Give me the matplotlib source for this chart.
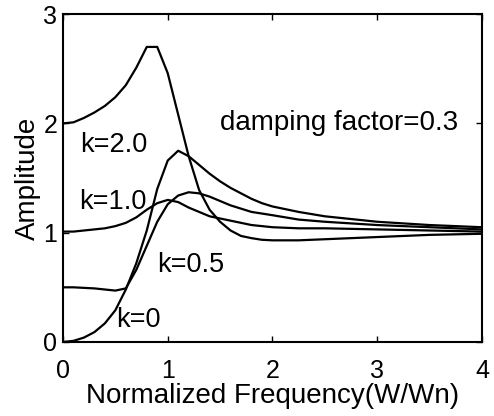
import matplotlib as mpl
mpl.use('Agg')

import matplotlib.pyplot as plt

# Frequency samples (W/Wn)
freq = [0.0, 0.1, 0.2, 0.3, 0.4, 0.5, 0.6, 0.7, 0.8, 0.9,
        1.0, 1.1, 1.2, 1.3, 1.4, 1.5, 1.6, 1.7, 1.8, 1.9,
        2.0, 2.25, 2.5, 3.0, 3.5, 4.0]

# Amplitude curves for each k
amp_k0 = [0.0, 0.01, 0.04, 0.09, 0.17, 0.29, 0.48, 0.72, 1.02, 1.40,
          1.66, 1.75, 1.70, 1.62, 1.54, 1.47, 1.41, 1.36, 1.31, 1.27,
          1.24, 1.19, 1.15, 1.10, 1.07, 1.05]
amp_k05 = [0.50, 0.50, 0.495, 0.49, 0.48, 0.47, 0.49, 0.66, 0.88, 1.10,
           1.26, 1.34, 1.37, 1.36, 1.33, 1.29, 1.25, 1.22, 1.19, 1.175,
           1.16, 1.12, 1.10, 1.07, 1.05, 1.03]
amp_k1 = [1.01, 1.01, 1.02, 1.03, 1.04, 1.06, 1.09, 1.14, 1.21, 1.27,
          1.30, 1.28, 1.23, 1.19, 1.15, 1.13, 1.11, 1.09, 1.07, 1.06,
          1.05, 1.04, 1.04, 1.03, 1.02, 1.01]
amp_k2 = [2.00, 2.01, 2.05, 2.10, 2.16, 2.24, 2.35, 2.51, 2.70, 2.70,
          2.46, 2.08, 1.70, 1.39, 1.21, 1.10, 1.02, 0.97, 0.95, 0.935,
          0.93, 0.93, 0.94, 0.96, 0.98, 0.99]

curve_labels = ["k=0", "k=0.5", "k=1.0", "k=2.0"]
label_pos = [(0.72, 0.20), (1.22, 0.70), (0.48, 1.28), (0.48, 1.80)]

xticks = [0, 1, 2, 3, 4]
yticks = [0, 1, 2, 3]

plt.rcParams['font.family'] = ['Liberation Sans', 'DejaVu Sans']

fig = plt.figure(figsize=(4.94, 4.16), dpi=100)
ax = fig.add_axes([0.1275, 0.178, 0.848, 0.788])

for amp in [amp_k0, amp_k05, amp_k1, amp_k2]:
  ax.plot(freq, amp, color='black', linewidth=1.6)

for txt, (lx, ly) in zip(curve_labels, label_pos):
  ax.text(lx, ly, txt, fontsize=19.5, ha='center', va='center')

ax.text(2.64, 2.0, "damping factor=0.3", fontsize=20, ha='center', va='center')

ax.set_xlim(0, 4)
ax.set_ylim(0, 3)
ax.set_xticks(xticks)
ax.set_yticks(yticks)
ax.tick_params(axis='both', which='major', direction='in', length=4, width=1,
  top=True, right=True, labelsize=18)
ax.tick_params(axis='x', pad=12)
ax.tick_params(axis='y', pad=4)
for s in ax.spines.values():
  s.set_linewidth(1.5)

ax.set_xlabel("Normalized Frequency(W/Wn)", fontsize=20, labelpad=0)
ax.set_ylabel("Amplitude", fontsize=20, labelpad=2)

plt.savefig("out.png", dpi=100)
plt.close()
